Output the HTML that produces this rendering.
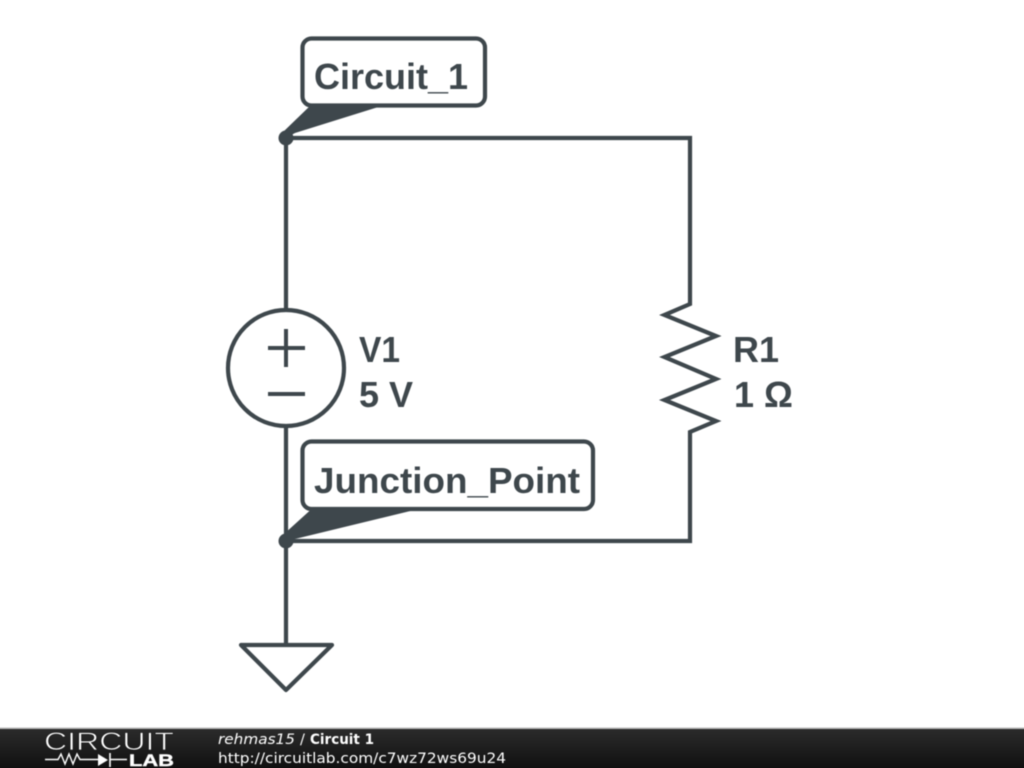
<!DOCTYPE html>
<html><head><meta charset="utf-8"><style>
html,body{margin:0;padding:0;background:#fff;width:1024px;height:768px;overflow:hidden}
svg{display:block}
</style></head><body>
<svg width="1024" height="768" viewBox="0 0 1024 768" xmlns="http://www.w3.org/2000/svg">
<defs><linearGradient id="b" x1="0" y1="0" x2="0" y2="1"><stop offset="0" stop-color="#2b2b2b"/><stop offset="1" stop-color="#0c0c0c"/></linearGradient></defs>
<rect width="1024" height="768" fill="#fff"/>
<g style="filter:blur(0.4px)">
<path d="M312 104H388L295 133L286 138L282 133Z" fill="#3e474c"/>
<path d="M316 505H435L300 537.7L286 541L284 534Z" fill="#3e474c"/>
<g fill="none" stroke="#3e474c" stroke-width="4.2">
<path d="M286 310V138H690V304L664.5 315L716 336L664.5 357L716 379L664.5 400L716 421L690 432V541H286"/>
<path d="M286 426V644"/>
<circle cx="286" cy="368" r="58"/>
<path d="M268 348H305M286 329V367M268 394H305" stroke-width="4"/>
<path d="M241 645H332L286 690Z" stroke-linejoin="round"/>
<rect x="302.5" y="38.5" width="182.5" height="67" rx="9" fill="#fff"/>
<rect x="302.5" y="441.5" width="290.5" height="67.5" rx="9" fill="#fff"/>
</g>
<circle cx="286" cy="138" r="7.5" fill="#3e474c"/>
<circle cx="286" cy="541" r="7.5" fill="#3e474c"/>
<g font-family="'Liberation Sans',sans-serif" font-weight="700" font-size="36" fill="#3e474c">
<text x="314" y="89" textLength="154" lengthAdjust="spacingAndGlyphs">Circuit_1</text>
<text x="314" y="493" textLength="266" lengthAdjust="spacingAndGlyphs">Junction_Point</text>
<text x="359" y="362" textLength="41" lengthAdjust="spacingAndGlyphs">V1</text>
<text x="359" y="407">5 V</text>
<text x="733" y="362">R1</text>
<text x="734" y="407">1 Ω</text>
</g>
<rect x="-5" y="727.5" width="1034" height="2" fill="#b8b8b8"/>
<rect x="-5" y="729" width="1034" height="45" fill="url(#b)"/>
<text x="44" y="750" font-family="'Liberation Sans',sans-serif" font-size="25" fill="#fff" stroke="#1e1e1e" stroke-width="0.7" textLength="130" lengthAdjust="spacingAndGlyphs">CIRCUIT</text>
<g fill="none" stroke="#fff">
<path d="M45 759.5H58L61 754L65 764L69 754L73 764L77 754L80 759.5H98M110 759.5H127" stroke-width="1.4"/>
<path d="M98 754V766L108 760Z" fill="#fff" stroke="none"/>
<path d="M110 753V767" stroke-width="1.6"/>
</g>
<text x="129" y="766" font-family="'Liberation Sans',sans-serif" font-weight="700" font-size="17" fill="#fff" stroke="#fff" stroke-width="0.4" textLength="45" lengthAdjust="spacingAndGlyphs">LAB</text>
<g font-family="'DejaVu Sans',sans-serif" font-size="14.5" fill="#fff">
<text x="218" y="744" font-style="italic" textLength="77" lengthAdjust="spacingAndGlyphs">rehmas15</text>
<text x="300" y="744">/</text>
<text x="310" y="744" font-weight="700" textLength="64" lengthAdjust="spacingAndGlyphs">Circuit 1</text>
<text x="218" y="763" textLength="288" lengthAdjust="spacingAndGlyphs">http://circuitlab.com/c7wz72ws69u24</text>
</g>
</g>
</svg>
</body></html>
